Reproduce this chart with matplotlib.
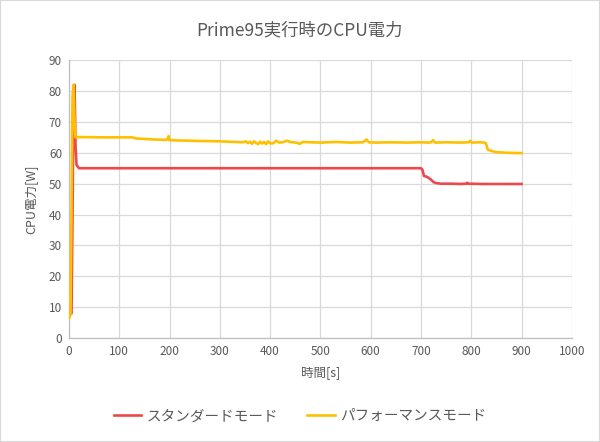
import matplotlib
matplotlib.use("Agg")
import matplotlib.pyplot as plt
from matplotlib.patches import Rectangle

plt.rcParams['font.family'] = ['Noto Sans CJK JP', 'DejaVu Sans']

title = "Prime95実行時のCPU電力"
xlabel = "時間[s]"
ylabel = "CPU電力[W]"
series_names = ["スタンダードモード", "パフォーマンスモード"]

std_t = [0, 3, 5, 7, 9, 11, 13, 15, 20, 100, 200, 300, 400, 500, 600, 700, 703, 706,
         712, 716, 720, 725, 730, 740, 760, 780, 790, 792, 794, 820, 860, 900]
std_v = [7.5, 7.8, 8, 40, 80, 82, 62, 56, 55, 55, 55, 55, 55, 55, 55, 55, 54.5, 52.5,
         52.2, 51.8, 51.3, 50.5, 50.2, 50.0, 50.0, 49.9, 50.0, 50.3, 50.0, 49.9, 49.9, 49.9]

perf_t = [0, 2, 3, 5, 7, 9, 11, 13, 20, 60, 100, 125, 135, 150, 170, 190, 196, 198, 200,
          215, 240, 270, 300, 330, 346, 352, 356, 360, 364, 368, 372, 376, 380, 384, 388,
          392, 396, 400, 404, 408, 412, 418, 425, 433, 440, 452, 459, 465, 480, 500, 530,
          560, 585, 592, 596, 610, 640, 670, 700, 715, 720, 724, 728, 750, 780, 795, 798,
          801, 815, 826, 829, 833, 840, 850, 870, 900]
perf_v = [6.5, 7, 8, 40, 78, 82, 70, 65, 65.1, 65.0, 65.0, 65.0, 64.6, 64.5, 64.3, 64.2, 64.3, 65.4, 64.1,
          64.0, 63.9, 63.8, 63.7, 63.5, 63.4, 63.7, 63.1, 63.6, 62.9, 63.7, 63.2, 62.8, 63.6, 63.0, 63.5,
          62.8, 63.7, 63.1, 63.0, 63.3, 63.9, 63.3, 63.4, 63.9, 63.5, 63.3, 62.9, 63.5, 63.4, 63.3, 63.5,
          63.3, 63.4, 64.3, 63.4, 63.3, 63.4, 63.3, 63.4, 63.3, 63.4, 64.1, 63.3, 63.4, 63.3, 63.4, 63.9,
          63.3, 63.4, 63.3, 63.1, 61.0, 60.6, 60.2, 60.0, 59.9]

xticks = [0, 100, 200, 300, 400, 500, 600, 700, 800, 900, 1000]
yticks = [0, 10, 20, 30, 40, 50, 60, 70, 80, 90]

red = "#EE484C"
gold = "#FFC000"
text_c = "#595959"
grid_c = "#D9D9D9"

fig = plt.figure(figsize=(6.0, 4.42), dpi=100)
fig.patches.append(Rectangle((0, 0), 1, 1, transform=fig.transFigure, fill=False,
                             edgecolor=grid_c, linewidth=1.5))
ax = fig.add_axes([0.115, 0.235, 0.838, 0.629])

ax.plot(std_t, std_v, color=red, lw=1.9, label=series_names[0], zorder=3)
ax.plot(perf_t, perf_v, color=gold, lw=1.9, label=series_names[1], zorder=4)

ax.set_xlim(0, 1000)
ax.set_ylim(0, 90)
ax.set_xticks(xticks)
ax.set_yticks(yticks)
ax.tick_params(length=0, labelsize=8.5, colors=text_c, pad=5)
ax.grid(True, color=grid_c, lw=0.9)
ax.set_axisbelow(True)
for s in ["top", "right"]:
    ax.spines[s].set_visible(False)
for s in ["left", "bottom"]:
    ax.spines[s].set_color("#BFBFBF")
    ax.spines[s].set_linewidth(0.9)

fig.text(0.5, 0.932, title, fontsize=12.5, color=text_c, ha="center", va="center")
ax.set_xlabel(xlabel, fontsize=9, color=text_c, labelpad=6)
ax.set_ylabel(ylabel, fontsize=9, color=text_c, labelpad=8)

leg = fig.legend(loc="center", bbox_to_anchor=(0.5, 0.058), ncol=2, frameon=False,
                 fontsize=10.5, handlelength=1.9, columnspacing=2.0, handletextpad=0.35)
for t in leg.get_texts():
    t.set_color(text_c)

fig.savefig("out.png", dpi=100)
